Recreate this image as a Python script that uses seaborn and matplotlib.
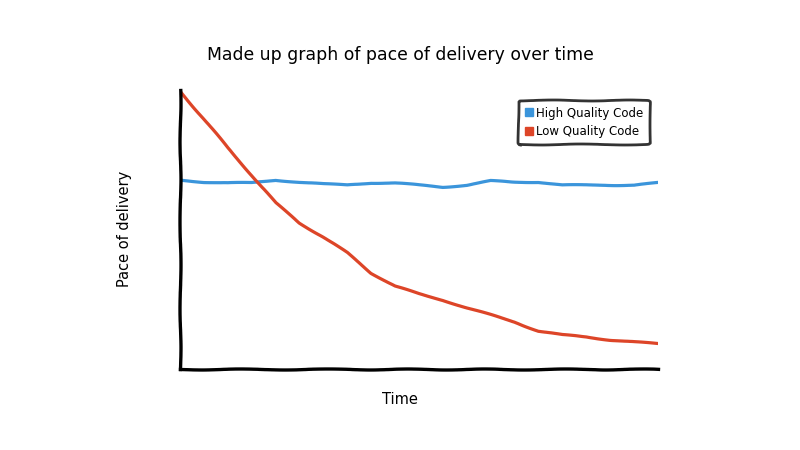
import matplotlib
matplotlib.use("Agg")
import matplotlib.pyplot as plt
from matplotlib.lines import Line2D
import seaborn as sns
import pandas as pd
import numpy as np

title = "Made up graph of pace of delivery over time"
x_label = "Time"
y_label = "Pace of delivery"
series_names = ["High Quality Code", "Low Quality Code"]
series_colors = ["#3b95db", "#dd4528"]

time_steps = list(range(21))
high_quality = [67.7, 67.0, 66.7, 66.7, 67.7, 67.0, 66.3, 65.9, 66.7, 66.7, 65.9,
                65.2, 65.9, 67.4, 67.0, 67.0, 65.9, 65.9, 65.9, 65.9, 66.7]
low_quality = [99.6, 89.6, 79.2, 69.5, 59.5, 52.3, 47.3, 41.6, 34.4, 29.7, 26.9,
               24.7, 21.9, 19.4, 16.8, 13.6, 12.2, 11.5, 10.4, 9.7, 9.0]

df = pd.DataFrame({
    "time": time_steps * 2,
    "pace": high_quality + low_quality,
    "series": [series_names[0]] * len(time_steps) + [series_names[1]] * len(time_steps),
})

sns.set_theme(style="white")
plt.xkcd(scale=0.5, length=90, randomness=2)
plt.rcParams["font.family"] = ["DejaVu Sans"]
plt.rcParams["path.effects"] = []
plt.rcParams["text.color"] = "black"

fig = plt.figure(figsize=(8, 4.5), dpi=100)
ax = fig.add_axes([0.225, 0.18, 0.5975, 0.62])

sns.lineplot(data=df, x="time", y="pace", hue="series",
             palette=dict(zip(series_names, series_colors)),
             linewidth=2.3, legend=False, ax=ax)

ax.set_xlim(0, 20)
ax.set_ylim(0, 100)
ax.set_xticks([])
ax.set_yticks([])
ax.set_xlabel("")
ax.set_ylabel("")
for s in ["top", "right"]:
    ax.spines[s].set_visible(False)
for s in ["left", "bottom"]:
    ax.spines[s].set_linewidth(2.4)
    ax.spines[s].set_color("black")
ax.margins(0)

fig.text(0.5, 1 - 400 / 450, x_label, ha="center", va="center", fontsize=10.5, color="black")
fig.text(125 / 800, 1 - 229 / 450, y_label, ha="center", va="center", rotation=90,
         fontsize=10.5, color="black")
fig.text(0.5, 0.878, title, ha="center", va="center", fontsize=12.4, color="black")

handles = [Line2D([0], [0], marker="s", linestyle="none", markersize=5.5,
                  markerfacecolor=c, markeredgecolor=c) for c in series_colors]
leg = ax.legend(handles, series_names, loc="upper right", bbox_to_anchor=(0.995, 0.985),
                fontsize=8.5, frameon=True, fancybox=True, handletextpad=0.2,
                borderpad=0.55, labelspacing=0.45, handlelength=0.8)
for t in leg.get_texts():
    t.set_color("black")
leg.get_frame().set_edgecolor("black")
leg.get_frame().set_linewidth(2.0)

fig.savefig("out.png", dpi=100)
